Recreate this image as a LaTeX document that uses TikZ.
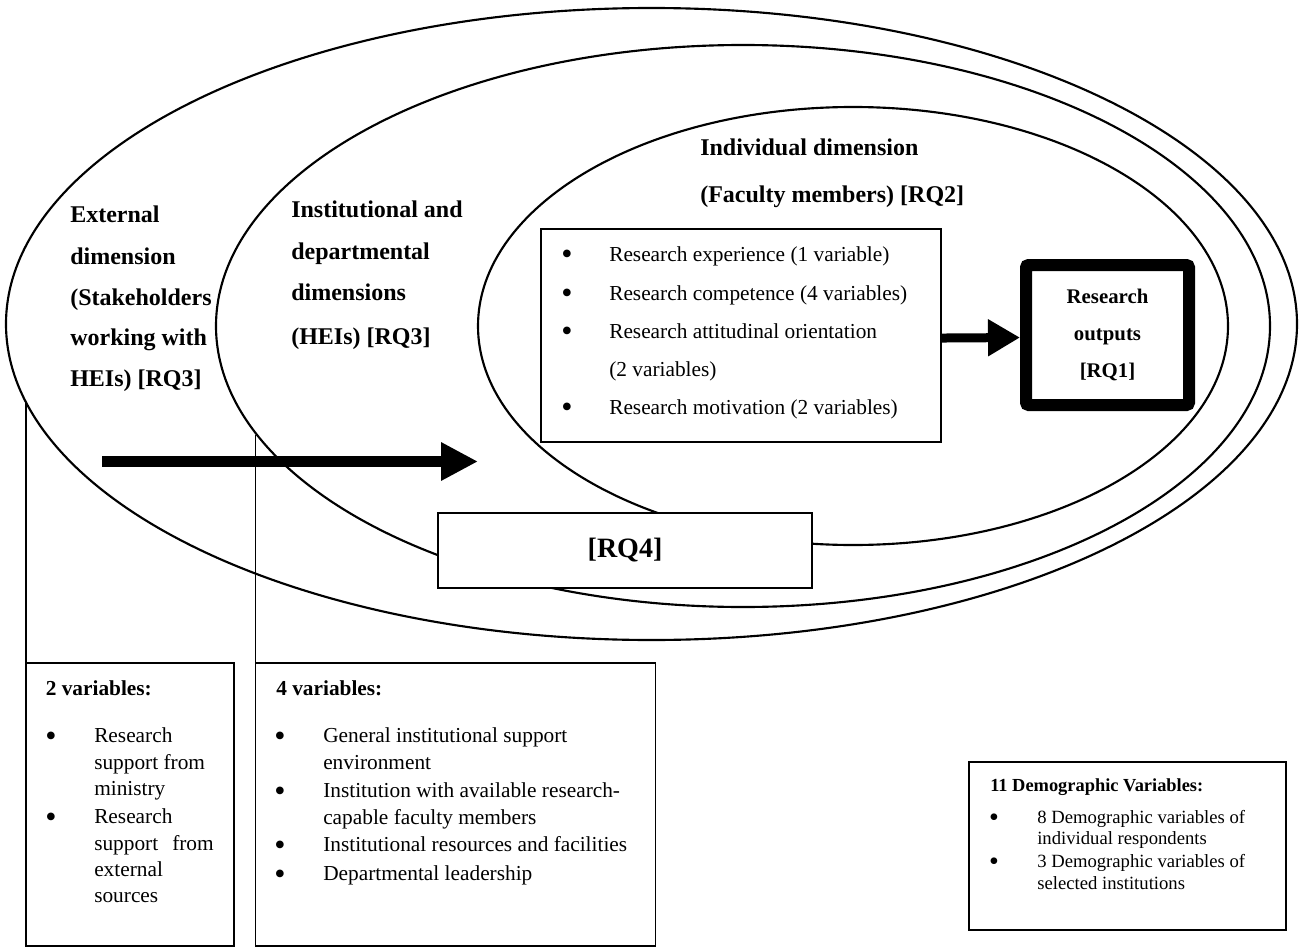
\documentclass[tikz,border=0pt]{standalone}
\usepackage{fontspec}
\setmainfont{Liberation Serif}
\usetikzlibrary{shapes.geometric,arrows.meta}

\begin{document}
\begin{tikzpicture}[x=0.75pt,y=-0.75pt,
  ring/.style={draw, ellipse, line width=1.6pt, inner sep=0pt, outer sep=0pt},
  frame/.style={draw, rectangle, line width=0.8pt, fill=white, inner sep=0pt, outer sep=0pt},
  lab/.style={inner sep=0pt, anchor=west, text height=11.9pt, text depth=0pt,
    font=\fontsize{18}{20}\selectfont\bfseries},
  itm/.style={inner sep=0pt, anchor=west, text height=10.6pt, text depth=0pt,
    font=\fontsize{16}{18}\selectfont},
  itmb/.style={itm, font=\fontsize{16}{18}\selectfont\bfseries},
  dem/.style={inner sep=0pt, anchor=west, text height=9.2pt, text depth=0pt,
    font=\fontsize{14}{16}\selectfont},
  demb/.style={dem, font=\fontsize{13.8}{16}\selectfont\bfseries},
  bul/.style={inner sep=0pt, anchor=center, text height=16.3pt, text depth=0pt,
    font=\fontsize{24}{24}\selectfont},
  bulsm/.style={inner sep=0pt, anchor=center, text height=14.3pt, text depth=0pt,
    font=\fontsize{21}{21}\selectfont},
  link/.style={line width=0.8pt},
  flow/.style={line width=8.25pt, -{Triangle[length=27.75pt,width=27pt]}},
  push/.style={line width=6.75pt, -{Triangle[length=24pt,width=26.25pt]}}
]
\useasboundingbox (0,0) rectangle (1303,949);

% nested dimensions
\node[ring, minimum width=968.25pt, minimum height=474pt] (outer) at (651.5,324) {};
\node[ring, minimum width=790.5pt, minimum height=421.5pt] (middle) at (743,326) {};
\node[ring, minimum width=562.5pt, minimum height=328.5pt] (inner) at (853,326) {};

% dimension labels
\node[lab] (ext1) at (70,215) {External};
\node[lab] (ext2) at (70,257) {dimension};
\node[lab] (ext3) at (70,298) {(Stakeholders};
\node[lab] (ext4) at (70,338) {working with};
\node[lab] (ext5) at (70,379) {HEIs) [RQ3]};

\node[lab] (ins1) at (291,210) {Institutional and};
\node[lab] (ins2) at (291,252) {departmental};
\node[lab] (ins3) at (291,293) {dimensions};
\node[lab] (ins4) at (291,337) {(HEIs) [RQ3]};

\node[lab] (ind1) at (700,148) {Individual dimension};
\node[lab] (ind2) at (700,195) {(Faculty members) [RQ2]};

% individual variables
\node[frame, minimum width=300pt, minimum height=159.75pt] (list) at (741,335.5) {};
\node[bul] (lb1) at (567,254) {•};
\node[itm] (lt1) at (609,254) {Research experience (1 variable)};
\node[bul] (lb2) at (567,293) {•};
\node[itm] (lt2) at (609,293) {Research competence (4 variables)};
\node[bul] (lb3) at (567,331) {•};
\node[itm] (lt3) at (609,331) {Research attitudinal orientation};
\node[itm] (lt3b) at (609,369) {(2 variables)};
\node[bul] (lb4) at (567,407) {•};
\node[itm] (lt4) at (609,407) {Research motivation (2 variables)};

% outcome
\node[draw, line width=9pt, rounded corners=2pt, fill=white, inner sep=0pt,
  minimum width=122.25pt, minimum height=105pt, align=center,
  font=\fontsize{15.6}{28.1}\selectfont\bfseries] (out) at (1107.5,335)
  {Research\\outputs\\{}[RQ1]};
\draw[push] ([yshift=-1.9pt]list.east) -- ([yshift=-1.9pt]out.west);

% moderating question
\node[frame, minimum width=280.5pt, minimum height=56.25pt,
  font=\fontsize{21}{24}\selectfont\bfseries] (rq4) at (625,550.5) {[RQ4]};

% influence of the outer dimensions
\coordinate (f0) at (102,461.5);
\coordinate (f1) at (478,461.5);
\draw[flow] (f0) -- (f1);

% external variables
\node[frame, minimum width=156pt, minimum height=212.25pt] (box1) at (130,804.5) {};
\coordinate (v1) at (26,402);
\draw[link] (v1) -- (box1.north west);
\node[itmb] (h1) at (45.5,688) {2 variables:};
\node[bul] (b1a) at (51,735.5) {•};
\node[itm] (t1a) at (94,735) {Research};
\node[itm] (t1b) at (94,762) {support from};
\node[itm] (t1c) at (94,788) {ministry};
\node[bul] (b1b) at (51,816.5) {•};
\node[itm] (t1d) at (94,816) {Research};
\node[itm] (t1e) at (94,843) {support\hspace{10.5pt}from};
\node[itm] (t1f) at (94,869) {external};
\node[itm] (t1g) at (94,895) {sources};

% institutional variables
\node[frame, minimum width=300pt, minimum height=212.25pt] (box2) at (455.5,804.5) {};
\coordinate (v2) at (255.5,435);
\draw[link] (v2) -- (box2.north west);
\node[itmb] (h2) at (276,688) {4 variables:};
\node[bul] (b2a) at (280,735.5) {•};
\node[itm] (t2a) at (323,735) {General institutional support};
\node[itm] (t2b) at (323,762) {environment};
\node[bul] (b2b) at (280,790.5) {•};
\node[itm] (t2c) at (323,790) {Institution with available research-};
\node[itm] (t2d) at (323,817) {capable faculty members};
\node[bul] (b2c) at (280,844.5) {•};
\node[itm] (t2e) at (323,844) {Institutional resources and facilities};
\node[bul] (b2d) at (280,873.5) {•};
\node[itm] (t2f) at (323,873) {Departmental leadership};

% demographic variables
\node[frame, minimum width=237.75pt, minimum height=126pt] (box3) at (1127.5,846) {};
\node[demb] (h3) at (990,785) {11 Demographic Variables:};
\node[bulsm] (b3a) at (994,817) {•};
\node[dem] (t3a) at (1037,817) {8 Demographic variables of};
\node[dem] (t3b) at (1037,838) {individual respondents};
\node[bulsm] (b3b) at (994,861) {•};
\node[dem] (t3c) at (1037,861) {3 Demographic variables of};
\node[dem] (t3d) at (1037,883) {selected institutions};
\end{tikzpicture}
\end{document}
